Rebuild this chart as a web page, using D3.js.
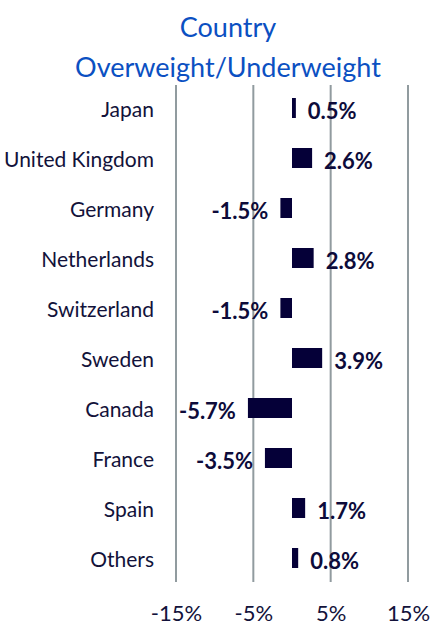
<!DOCTYPE html>
<html><head><meta charset="utf-8">
<script src="https://cdn.jsdelivr.net/npm/d3@7"></script>
<style>html,body{margin:0;padding:0;background:#fff;}</style>
</head><body>
<script>
const categories = ["Japan","United Kingdom","Germany","Netherlands","Switzerland","Sweden","Canada","France","Spain","Others"];
const values = [0.5, 2.6, -1.5, 2.8, -1.5, 3.9, -5.7, -3.5, 1.7, 0.8];
const tickValues = [-15, -5, 5, 15];
const titleLines = ["Country", "Overweight/Underweight"];

const W = 442, H = 636;
const svg = d3.select("body").append("svg").attr("width", W).attr("height", H);
const font = "Lato, 'Noto Sans', sans-serif";

const x = d3.scaleLinear().domain([-15, 15]).range([176, 408]);
const y = d3.scaleBand().domain(categories).range([83, 583]).paddingInner(0.6).paddingOuter(0.3);

// title
svg.append("g").selectAll("text").data(titleLines).join("text")
  .attr("x", 228).attr("y", (d, i) => 37 + i * 40)
  .attr("text-anchor", "middle")
  .attr("font-family", font).attr("font-size", 27)
  .attr("fill", "#0b50c2").text(d => d);

// gridlines
svg.append("g").selectAll("line").data(tickValues).join("line")
  .attr("x1", d => x(d)).attr("x2", d => x(d))
  .attr("y1", 85).attr("y2", 582)
  .attr("stroke", "#919b9f").attr("stroke-width", 2);

// x axis tick labels
const xAxis = d3.axisBottom(x).tickValues(tickValues).tickFormat(d => d + "%").tickSize(0).tickPadding(0);
const gx = svg.append("g").attr("transform", "translate(0,605)").call(xAxis);
gx.select(".domain").remove();
gx.selectAll("text").attr("font-family", font).attr("font-size", 22).attr("fill", "#12123a").attr("dy", "0.71em");

// category labels
const yAxis = d3.axisLeft(y).tickSize(0).tickPadding(0);
const gy = svg.append("g").attr("transform", "translate(154,2)").call(yAxis);
gy.select(".domain").remove();
gy.selectAll("text").attr("font-family", font).attr("font-size", 21).attr("fill", "#12123a");

// bars
svg.append("g").selectAll("rect").data(categories).join("rect")
  .attr("x", (d, i) => x(Math.min(0, values[i])))
  .attr("width", (d, i) => Math.abs(x(values[i]) - x(0)))
  .attr("y", d => y(d))
  .attr("height", y.bandwidth())
  .attr("fill", "#050038");

// value labels
svg.append("g").selectAll("text").data(categories).join("text")
  .attr("x", (d, i) => values[i] >= 0 ? x(values[i]) + 12 : x(values[i]) - 12)
  .attr("y", d => y(d) + y.bandwidth() / 2 + 3)
  .attr("dy", "0.35em")
  .attr("text-anchor", (d, i) => values[i] >= 0 ? "start" : "end")
  .attr("font-family", font).attr("font-size", 22).attr("font-weight", "bold")
  .attr("fill", "#0d0b3a")
  .text((d, i) => values[i].toFixed(1) + "%");
</script>
</body></html>
